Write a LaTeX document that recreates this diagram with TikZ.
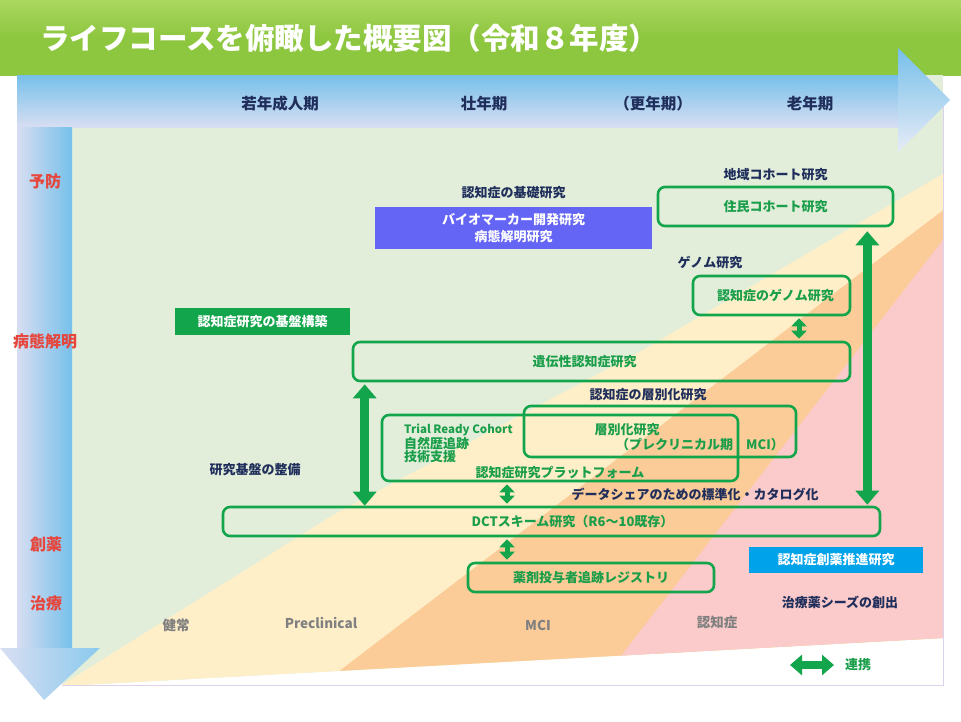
\documentclass[tikz,border=0pt]{standalone}
\usepackage{fontspec}
\setmainfont{Noto Sans CJK JP}
\usetikzlibrary{arrows.meta, positioning}

\definecolor{titlegreen}{RGB}{141,198,63}
\definecolor{titlelight}{RGB}{170,215,95}
\definecolor{bandblue}{RGB}{118,192,234}
\definecolor{bandlav}{RGB}{216,222,242}
\definecolor{bggreen}{RGB}{226,238,218}
\definecolor{bgyellow}{RGB}{255,239,201}
\definecolor{bgorange}{RGB}{251,203,152}
\definecolor{bgpink}{RGB}{251,202,202}
\definecolor{framecol}{RGB}{220,210,234}
\definecolor{linkgreen}{RGB}{18,165,75}
\definecolor{textgreen}{RGB}{26,158,74}
\definecolor{navytext}{RGB}{31,46,90}
\definecolor{redlabel}{RGB}{230,70,60}
\definecolor{purplebox}{RGB}{100,100,245}
\definecolor{bluebox}{RGB}{0,162,233}
\definecolor{graytext}{RGB}{128,128,128}

\begin{document}
\begin{tikzpicture}[
    x=1pt, y=-1pt,
    resbox/.style={draw=linkgreen, line width=2.6pt, rounded corners=7pt,
        text=textgreen, font=\fontsize{13}{16}\selectfont\bfseries,
        align=center, inner sep=0pt},
    fillbox/.style={text=white, font=\fontsize{13}{17}\selectfont\bfseries,
        align=center, inner sep=0pt},
    headlabel/.style={text=navytext, font=\fontsize{13}{16}\selectfont\bfseries,
        inner sep=0pt},
    agelabel/.style={text=navytext, font=\fontsize{15.5}{18}\selectfont\bfseries,
        inner sep=0pt},
    sidelabel/.style={text=redlabel, font=\fontsize{16}{18}\selectfont\bfseries,
        inner sep=0pt},
    statelabel/.style={text=graytext, font=\fontsize{13.5}{16}\selectfont\bfseries,
        inner sep=0pt},
    greentext/.style={text=textgreen, font=\fontsize{13}{16}\selectfont\bfseries,
        inner sep=0pt},
    bigarrow/.style={draw=linkgreen, line width=9pt,
        {Triangle[width=23pt,length=14pt]}-{Triangle[width=23pt,length=14pt]}},
    smallarrow/.style={draw=linkgreen, line width=5pt,
        {Triangle[width=15pt,length=8pt]}-{Triangle[width=15pt,length=8pt]}}
]
\useasboundingbox (0,0) rectangle (961,721);
\fill[white] (0,0) rectangle (961,721);

% Background bands
\shade[top color=titlelight, bottom color=titlegreen, middle color=titlegreen]
    (0,0) rectangle (961,75);
\begin{scope}
    \clip (62,75) -- (943,75) -- (943,638) -- (62,686) -- cycle;
    \fill[bggreen] (62,75) rectangle (943,690);
    \fill[bgyellow] (30,705) -- (333,515) -- (643,350) -- (980,152)
        -- (980,720) -- (30,720) -- cycle;
    \fill[bgorange] (300,701) -- (980,182) -- (980,720) -- (300,720) -- cycle;
    \fill[bgpink] (590,696) -- (980,192) -- (980,720) -- (590,720) -- cycle;
\end{scope}
\draw[framecol, line width=0.8pt] (943,100) -- (943,685) -- (62,685);

% Axis arrows
\shade[top color=bandblue, bottom color=bandlav] (17,75) rectangle (898,127);
\shade[top color=bandblue, bottom color=bandlav!60!white]
    (898,48) -- (950,100) -- (898,152) -- cycle;
\shade[left color=bandlav, right color=bandblue] (17,127) rectangle (72,648);
\shade[left color=bandlav, right color=bandblue!85!white]
    (0,648) -- (100,648) -- (44,700) -- cycle;

% Title
\node[anchor=west, text=white, font=\fontsize{29.5}{33}\selectfont\bfseries,
    inner sep=0pt] (title) at (40,38) {ライフコースを俯瞰した概要図（令和８年度）};

% Age and field labels
\node[agelabel] (jakunen) at (280,104) {若年成人期};
\node[agelabel] (sonen) at (484,104) {壮年期};
\node[agelabel] (konen) at (653,104) {（更年期）};
\node[agelabel] (ronen) at (810,104) {老年期};
\node[sidelabel] (yobo) at (45,181) {予防};
\node[sidelabel] (byotai) at (45,341) {病態解明};
\node[sidelabel] (soyakulbl) at (46,544) {創薬};
\node[sidelabel] (chiryo) at (46,603) {治療};

% Nodes
\node[fill=purplebox, fillbox, minimum width=277, minimum height=42] (kiso)
    at (513.5,228) {バイオマーカー開発研究\\病態解明研究};
\node[headlabel, above=8pt of kiso] (kisolbl) {認知症の基礎研究};
\node[resbox, minimum width=235, minimum height=39] (jumin)
    at (775.5,206.5) {住民コホート研究};
\node[headlabel, above=5pt of jumin] (chiikilbl) {地域コホート研究};
\node[resbox, minimum width=157, minimum height=39] (genome)
    at (771.5,295.5) {\hspace{8pt}認知症のゲノム研究};
\node[headlabel] (genomelbl) at (710,263) {ゲノム研究};
\node[fill=linkgreen, fillbox, minimum width=175, minimum height=27] (kiban)
    at (262.5,321.5) {認知症研究の基盤構築};
\node[resbox, minimum width=497, minimum height=39] (iden)
    at (601.5,361.5) {遺伝性認知症研究\hspace{34pt}};
\node[headlabel] (sobetsulbl) at (648,395) {認知症の層別化研究};
\node[resbox, minimum width=356, minimum height=66] (platform) at (560,448) {};
\node[resbox, minimum width=272, minimum height=51] (sobetsu) at (660,431.5) {};
\node[greentext, anchor=west, font=\fontsize{11.5}{14}\selectfont\bfseries]
    (trc) at (404,430) {Trial Ready Cohort};
\node[greentext, anchor=north west] (shizen) at ([yshift=-1pt]trc.south west) {自然歴追跡};
\node[greentext, anchor=north west] (gijutsu) at (shizen.south west) {技術支援};
\node[greentext] (platformlbl) at (560,473) {認知症研究プラットフォーム};
\node[greentext] (sobetsutxt) at (627,430) {層別化研究};
\node[greentext, anchor=east] (preclin) at (784,445) {（プレクリニカル期　MCI）};
\node[headlabel] (kibanlbl) at (255,470) {研究基盤の整備};
\node[headlabel] (datalbl) at (695,494) {データシェアのための標準化・カタログ化};
\node[resbox, minimum width=657, minimum height=29] (dct)
    at (551.5,521.5) {\hspace{42pt}DCTスキーム研究（R6～10既存）};
\node[resbox, minimum width=246, minimum height=29] (registry)
    at (591,577.5) {薬剤投与者追跡レジストリ};
\node[fill=bluebox, fillbox, minimum width=174, minimum height=26] (soyaku)
    at (836,560) {認知症創薬推進研究};
\node[headlabel] (seeds) at (840,602) {治療薬シーズの創出};
\node[statelabel] (kenjo) at (176,625) {健常};
\node[statelabel] (precl) at (321,623) {Preclinical};
\node[statelabel] (mci) at (538,625) {MCI};
\node[statelabel] (ninchi) at (717,622) {認知症};
\coordinate (legl) at (790,665);
\coordinate (legr) at (834,665);
\node[greentext, anchor=west] (renkei) at (845,665) {連携};

% Paths
\coordinate (lnk) at (507,0);
\draw[bigarrow] ([xshift=13pt,yshift=-2pt]iden.south west)
    -- ([xshift=13pt]iden.south west |- dct.north);
\draw[bigarrow] ([xshift=-27pt,yshift=-4pt]jumin.south east)
    -- ([xshift=-27pt,yshift=1pt]jumin.south east |- dct.north);
\draw[smallarrow] ([xshift=27.5pt,yshift=-2pt]genome.south)
    -- ([xshift=27.5pt,yshift=2pt]genome.south |- iden.north);
\draw[smallarrow] ([yshift=-2pt]platform.south -| lnk)
    -- ([yshift=2pt]dct.north -| lnk);
\draw[smallarrow] ([yshift=-2pt]dct.south -| lnk)
    -- ([yshift=2pt]registry.north -| lnk);
\draw[draw=linkgreen, line width=8pt,
    {Triangle[width=20pt,length=12pt]}-{Triangle[width=20pt,length=12pt]}]
    (legl) -- (legr);

\end{tikzpicture}
\end{document}
